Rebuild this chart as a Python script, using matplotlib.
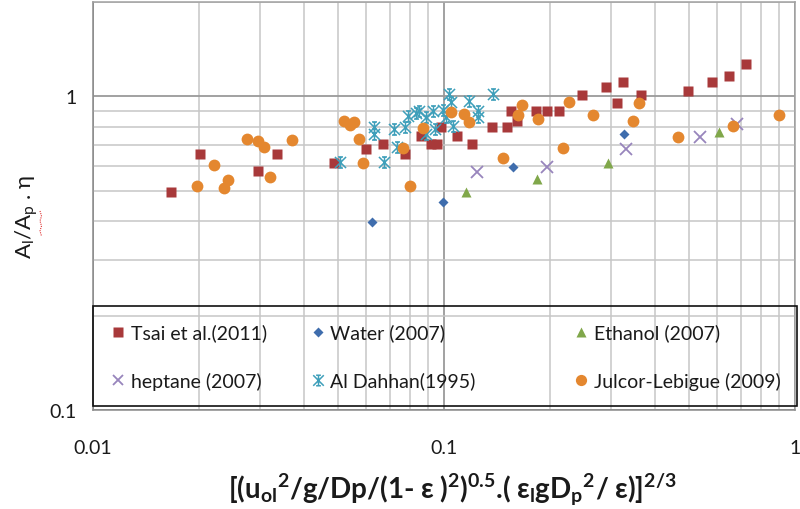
import matplotlib
matplotlib.use("Agg")
import matplotlib.pyplot as plt
from matplotlib.path import Path
from matplotlib.patches import Rectangle
from matplotlib.lines import Line2D
from matplotlib.legend import Legend
from matplotlib.ticker import FixedLocator, NullFormatter, FixedFormatter

plt.rcParams['font.family'] = ['Lato', 'DejaVu Sans']
plt.rcParams['mathtext.default'] = 'regular'

# Tsai et al. (2011)
tsai_x = [0.0167, 0.0202, 0.0296, 0.0335, 0.0487, 0.0600, 0.0672, 0.0774, 0.0860, 0.0918,
          0.0953, 0.0981, 0.109, 0.120, 0.137, 0.151, 0.155, 0.161, 0.183, 0.197,
          0.212, 0.247, 0.289, 0.311, 0.323, 0.364, 0.497, 0.580, 0.649, 0.725]
tsai_y = [0.496, 0.653, 0.577, 0.653, 0.615, 0.678, 0.703, 0.653, 0.747, 0.703,
          0.703, 0.799, 0.748, 0.705, 0.799, 0.799, 0.898, 0.835, 0.898, 0.898,
          0.898, 1.007, 1.071, 0.950, 1.112, 1.009, 1.044, 1.112, 1.160, 1.264]

# Water / Ethanol / heptane (2007)
water_x = [0.0624, 0.0992, 0.157, 0.326]
water_y = [0.399, 0.461, 0.596, 0.757]
ethanol_x = [0.1155, 0.184, 0.293, 0.609]
ethanol_y = [0.496, 0.547, 0.613, 0.768]
heptane_x = [0.1239, 0.1965, 0.330, 0.537, 0.684]
heptane_y = [0.576, 0.596, 0.678, 0.744, 0.814]

# Al Dahhan (1995)
dahhan_x = [0.0506, 0.0632, 0.0632, 0.0675, 0.0721, 0.0774, 0.0735, 0.0790, 0.0832, 0.0849,
            0.0889, 0.0889, 0.0930, 0.0943, 0.0994, 0.1013, 0.1033, 0.1047, 0.1061, 0.1178,
            0.1250, 0.1250, 0.1379]
dahhan_y = [0.616, 0.797, 0.757, 0.616, 0.785, 0.797, 0.688, 0.864, 0.883, 0.896,
            0.857, 0.757, 0.896, 0.785, 0.902, 0.857, 1.015, 0.957, 0.802, 0.964,
            0.896, 0.857, 1.015]

# Julcor-Lebigue (2009)
julcor_x = [0.0198, 0.0221, 0.0236, 0.0242, 0.0275, 0.0295, 0.0307, 0.0320, 0.0369, 0.0520,
            0.0555, 0.0541, 0.0572, 0.0587, 0.0763, 0.0873, 0.0798, 0.1047, 0.1140, 0.1181,
            0.1470, 0.1665, 0.1628, 0.1849, 0.2188, 0.2266, 0.2652, 0.3448, 0.3601, 0.4632,
            0.6644, 0.9022]
julcor_y = [0.517, 0.603, 0.512, 0.540, 0.733, 0.719, 0.688, 0.555, 0.724, 0.835,
            0.828, 0.809, 0.730, 0.615, 0.687, 0.795, 0.518, 0.889, 0.880, 0.826,
            0.637, 0.940, 0.870, 0.849, 0.683, 0.961, 0.872, 0.833, 0.954, 0.744,
            0.807, 0.873]

x_ticks = [0.01, 0.1, 1]
x_labels = ['0.01', '0.1', '1']
y_ticks = [0.1, 1]
y_labels = ['0.1', '1']

# excel style star: an X with a capped vertical bar
star = Path([(-1, -1), (1, 1), (-1, 1), (1, -1), (0, -1), (0, 1),
             (-0.45, 1), (0.45, 1), (-0.45, -1), (0.45, -1)],
            [Path.MOVETO, Path.LINETO] * 5)

fig = plt.figure(figsize=(8, 5.1), dpi=100)
ax = fig.add_axes([93 / 800, 99 / 510, 702 / 800, 408 / 510])
ax.set_xscale('log')
ax.set_yscale('log')
ax.set_xlim(0.01, 1)
ax.set_ylim(0.1, 2)

h_tsai, = ax.plot(tsai_x, tsai_y, 's', color='#A8393A', ms=7.8, mec='none', label='Tsai et al.(2011)')
h_water, = ax.plot(water_x, water_y, 'D', color='#3F6DAD', ms=5.5, mec='none', label='Water (2007)')
h_eth, = ax.plot(ethanol_x, ethanol_y, '^', color='#80A74A', ms=7.5, mec='none', label='Ethanol (2007)')
h_hep, = ax.plot(heptane_x, heptane_y, 'x', color='#9885BC', ms=8, mew=1.3, label='heptane (2007)')
h_dah, = ax.plot(dahhan_x, dahhan_y, ls='none', marker=star, color='#3E9FBA', ms=8, mew=1.1,
                 label='Al Dahhan(1995)')
h_jul, = ax.plot(julcor_x, julcor_y, 'o', color='#E4872F', ms=8.5, mec='none',
                 label='Julcor-Lebigue (2009)')

ax.xaxis.set_major_locator(FixedLocator(x_ticks))
ax.xaxis.set_major_formatter(FixedFormatter(x_labels))
ax.yaxis.set_major_locator(FixedLocator(y_ticks))
ax.yaxis.set_major_formatter(FixedFormatter(y_labels))
ax.xaxis.set_minor_formatter(NullFormatter())
ax.yaxis.set_minor_formatter(NullFormatter())
ax.tick_params(which='both', length=0, labelsize=14, colors='#1a1a1a')
ax.tick_params(axis='x', pad=21)
ax.tick_params(axis='y', pad=12)

ax.grid(which='major', color='#9a9a9a', lw=1.3)
ax.grid(which='minor', color='#c6c6c6', lw=1.1)
ax.set_axisbelow(True)
for s in ax.spines.values():
    s.set_color('#a0a0a0')
    s.set_linewidth(1.1)
ax.spines['left'].set_color('#8a8a8a')
ax.spines['bottom'].set_color('#8a8a8a')

# legend: three columns placed one by one, entries read row-wise
columns = [((h_tsai, h_hep), 0.025), ((h_water, h_dah), 0.309), ((h_eth, h_jul), 0.684)]
for handles, x0 in columns:
    leg = Legend(ax, handles, [h.get_label() for h in handles], loc='upper left',
                 bbox_to_anchor=(x0, 0.212), frameon=False, fontsize=14,
                 labelspacing=1.55, borderpad=0, borderaxespad=0,
                 handletextpad=0.25, handlelength=0.8, markerscale=0.95)
    for t in leg.get_texts():
        t.set_color('#1a1a1a')
    ax.add_artist(leg)
ax.add_patch(Rectangle((0, 0.0098), 1.003, 0.245, transform=ax.transAxes, fill=False,
                       edgecolor='#111111', lw=1.2, clip_on=False, zorder=5))

fig.text(27 / 800, 1 - 217 / 510, r'A$_l$/A$_p$ . η', rotation=90,
         ha='center', va='center', fontsize=16, color='#1a1a1a')
# spell-check squiggle under the subscript
fig.add_artist(Line2D([40 / 800, 41.5 / 800, 40 / 800, 41.5 / 800, 40 / 800, 41.5 / 800],
                      [1 - 212 / 510, 1 - 217 / 510, 1 - 222 / 510, 1 - 227 / 510,
                       1 - 232 / 510, 1 - 237 / 510],
                      color='#e03030', lw=0.8, ls=(0, (1, 1))))
fig.text(452 / 800, 1 - 490 / 510,
         r'[(u$_{ol}$$^{2}$/g/Dp/(1- ε )$^{2}$)$^{0.5}$.( ε$_{l}$gD$_{p}$$^{2}$/ ε)]$^{2/3}$',
         ha='center', va='center', fontsize=20, fontweight='bold', color='#1a1a1a')

fig.savefig('out.png', dpi=100)
